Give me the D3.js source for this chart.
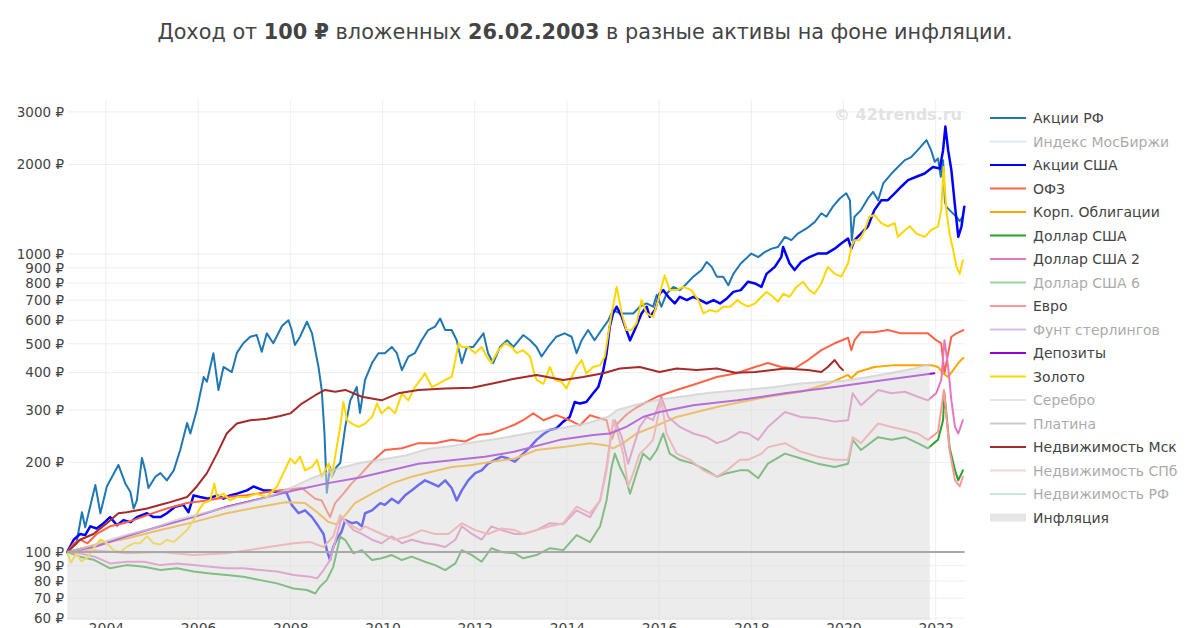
<!DOCTYPE html>
<html><head><meta charset="utf-8">
<script src="https://cdn.jsdelivr.net/npm/d3@7"></script>
<style>body{margin:0;background:#fff}svg{display:block;font-family:"DejaVu Sans",Verdana,sans-serif}</style>
</head><body>
<svg id="c" width="1200" height="628"></svg>
<script>
// ---- DATA (decimal year, value in ₽ per 100 ₽ invested) ----
const yTickValues = [60,70,80,90,100,200,300,400,500,600,700,800,900,1000,2000,3000];
const xTickYears = [2004,2006,2008,2010,2012,2014,2016,2018,2020,2022];

const rfStocks = [[2003.16,100],[2003.36,107],[2003.48,136],[2003.55,121],[2003.77,168],[2003.88,135],[2004.02,166],[2004.27,196],[2004.42,170],[2004.53,159],[2004.6,140],[2004.67,149],[2004.78,207],[2004.85,188],[2004.92,164],[2005.07,179],[2005.18,184],[2005.32,174],[2005.47,188],[2005.61,220],[2005.76,271],[2005.83,250],[2005.97,300],[2006.12,387],[2006.19,373],[2006.33,465],[2006.44,350],[2006.55,418],[2006.73,402],[2006.84,466],[2006.98,502],[2007.13,528],[2007.27,535],[2007.38,470],[2007.49,542],[2007.63,502],[2007.82,574],[2007.96,600],[2008.03,556],[2008.1,495],[2008.21,528],[2008.36,593],[2008.47,542],[2008.61,418],[2008.68,350],[2008.74,250],[2008.79,158],[2008.86,193],[2008.9,179],[2009.0,193],[2009.08,199],[2009.19,263],[2009.3,323],[2009.44,358],[2009.51,293],[2009.62,378],[2009.77,431],[2009.91,465],[2010.05,465],[2010.2,488],[2010.31,465],[2010.42,408],[2010.56,453],[2010.7,465],[2010.85,514],[2010.99,556],[2011.14,571],[2011.25,608],[2011.36,556],[2011.5,556],[2011.61,514],[2011.72,431],[2011.83,488],[2011.97,488],[2012.08,514],[2012.19,542],[2012.29,465],[2012.4,431],[2012.55,488],[2012.7,514],[2012.84,488],[2013.05,535],[2013.2,514],[2013.34,488],[2013.45,453],[2013.59,488],[2013.77,528],[2013.95,542],[2014.1,528],[2014.21,465],[2014.32,514],[2014.46,556],[2014.6,514],[2014.75,556],[2014.9,600],[2015.0,649],[2015.15,632],[2015.29,632],[2015.44,632],[2015.58,666],[2015.73,683],[2015.87,666],[2015.95,730],[2016.05,666],[2016.16,736],[2016.31,776],[2016.45,757],[2016.6,797],[2016.74,840],[2016.92,884],[2017.03,941],[2017.14,906],[2017.25,840],[2017.39,840],[2017.5,786],[2017.61,858],[2017.77,930],[2018.0,1004],[2018.15,977],[2018.29,1016],[2018.44,1043],[2018.58,1057],[2018.73,1142],[2018.87,1114],[2019.01,1172],[2019.2,1219],[2019.38,1283],[2019.52,1371],[2019.63,1335],[2019.77,1443],[2019.92,1537],[2020.06,1600],[2020.14,1517],[2020.18,1114],[2020.24,1335],[2020.38,1405],[2020.53,1537],[2020.64,1618],[2020.75,1517],[2020.86,1726],[2021.04,1864],[2021.18,1960],[2021.33,2067],[2021.47,2117],[2021.61,2233],[2021.8,2412],[2021.9,2233],[2021.98,2040],[2022.05,2094],[2022.11,1818],[2022.16,2067],[2022.2,1500],[2022.23,1443],[2022.3,1405],[2022.45,1335],[2022.52,1290],[2022.58,1330]];

const usStocks = [[2003.16,100],[2003.3,110],[2003.44,115],[2003.55,114],[2003.66,122],[2003.8,120],[2003.95,125],[2004.09,131],[2004.24,123],[2004.38,128],[2004.53,126],[2004.67,131],[2004.89,135],[2005.03,131],[2005.18,131],[2005.32,135],[2005.5,142],[2005.68,144],[2005.79,136],[2005.9,155],[2006.04,153],[2006.22,151],[2006.41,155],[2006.55,151],[2006.69,155],[2006.84,157],[2007.06,161],[2007.2,166],[2007.42,161],[2007.56,161],[2007.71,159],[2007.92,158],[2008.03,144],[2008.18,135],[2008.32,138],[2008.47,131],[2008.61,122],[2008.72,115],[2008.79,101.5],[2008.86,94],[2008.93,104],[2009.0,110],[2009.11,117],[2009.19,128],[2009.33,125],[2009.44,126],[2009.55,122],[2009.62,135],[2009.77,138],[2009.95,146],[2010.05,144],[2010.2,151],[2010.34,146],[2010.49,155],[2010.63,161],[2010.78,168],[2010.92,174],[2011.07,170],[2011.21,166],[2011.36,174],[2011.5,164],[2011.61,149],[2011.72,161],[2011.86,174],[2012.01,184],[2012.15,188],[2012.29,198],[2012.44,204],[2012.58,209],[2012.73,206],[2012.87,201],[2013.05,214],[2013.2,225],[2013.34,238],[2013.49,249],[2013.63,257],[2013.77,260],[2013.92,274],[2014.06,284],[2014.17,319],[2014.28,315],[2014.42,319],[2014.57,341],[2014.68,358],[2014.79,408],[2014.86,465],[2014.93,571],[2015.0,632],[2015.08,666],[2015.19,616],[2015.29,556],[2015.37,514],[2015.47,556],[2015.62,632],[2015.73,666],[2015.8,616],[2015.91,649],[2016.01,736],[2016.09,757],[2016.2,719],[2016.34,683],[2016.45,719],[2016.6,701],[2016.74,719],[2016.89,701],[2017.03,683],[2017.18,701],[2017.32,683],[2017.47,710],[2017.61,747],[2017.77,757],[2017.93,808],[2018.08,797],[2018.22,776],[2018.33,858],[2018.51,906],[2018.65,977],[2018.69,1057],[2018.83,930],[2018.94,884],[2019.08,941],[2019.26,977],[2019.44,1004],[2019.63,1004],[2019.81,1043],[2019.95,1085],[2020.1,1128],[2020.17,1043],[2020.24,1114],[2020.38,1172],[2020.53,1240],[2020.67,1405],[2020.82,1517],[2020.96,1517],[2021.11,1600],[2021.25,1683],[2021.4,1771],[2021.58,1818],[2021.76,1864],[2021.94,1960],[2022.09,1937],[2022.16,2233],[2022.21,2680],[2022.27,2233],[2022.34,1913],[2022.42,1443],[2022.49,1142],[2022.56,1240],[2022.62,1443]];

const ofz = [[2003.16,100],[2003.3,107],[2003.44,110],[2003.6,107],[2003.8,115],[2004.09,122],[2004.38,125],[2004.6,128],[2004.89,133],[2005.32,140],[2005.76,146],[2006.19,149],[2006.62,153],[2007.06,155],[2007.49,159],[2007.89,162],[2008.25,164],[2008.54,151],[2008.68,149],[2008.86,131],[2008.97,146],[2009.15,157],[2009.33,170],[2009.55,184],[2009.77,201],[2010.05,220],[2010.42,223],[2010.78,232],[2011.14,232],[2011.5,238],[2011.79,235],[2012.08,247],[2012.36,250],[2012.66,260],[2012.87,268],[2013.05,277],[2013.27,292],[2013.49,277],[2013.77,288],[2014.06,277],[2014.28,266],[2014.5,288],[2014.72,281],[2014.86,277],[2014.93,250],[2014.98,240],[2015.1,270],[2015.3,290],[2015.5,305],[2015.75,320],[2015.95,332],[2016.38,350],[2016.81,367],[2017.25,387],[2017.68,398],[2018.08,418],[2018.36,431],[2018.65,418],[2018.94,413],[2019.23,441],[2019.52,476],[2019.81,502],[2020.1,524],[2020.17,476],[2020.24,514],[2020.38,547],[2020.67,547],[2020.96,556],[2021.25,542],[2021.54,542],[2021.83,542],[2022.01,514],[2022.12,502],[2022.19,398],[2022.27,465],[2022.34,528],[2022.45,542],[2022.6,556]];

const corpBonds = [[2003.16,100],[2003.8,106],[2004.45,111],[2005.18,118.5],[2005.9,126],[2006.62,135],[2007.35,142],[2007.89,147],[2008.32,146],[2008.61,135],[2008.83,126],[2009.0,124],[2009.19,133],[2009.4,146],[2009.77,157],[2010.2,170],[2010.63,179],[2011.07,186],[2011.5,193],[2011.94,196],[2012.36,201],[2012.87,206],[2013.34,220],[2013.92,225],[2014.5,232],[2014.86,228],[2015.0,223],[2015.22,232],[2015.51,250],[2015.95,266],[2016.38,284],[2016.81,295],[2017.25,307],[2017.7,317],[2018.36,332],[2019.08,345],[2019.66,367],[2020.1,393],[2020.17,383],[2020.31,402],[2020.67,418],[2021.11,424],[2021.54,424],[2021.9,424],[2022.05,418],[2022.16,398],[2022.27,387],[2022.38,408],[2022.49,431],[2022.6,449]];

const usd = [[2003.16,100],[2003.44,96.5],[2003.75,94],[2004.09,88.2],[2004.45,90.4],[2004.82,89.2],[2005.18,87],[2005.54,88.2],[2005.9,86],[2006.26,84.8],[2006.62,83.7],[2006.98,82.6],[2007.35,80.5],[2007.71,78.5],[2008.07,75.5],[2008.36,74.6],[2008.54,72.6],[2008.64,76.5],[2008.79,80.5],[2008.93,89.2],[2009.08,112.6],[2009.19,109.7],[2009.37,99],[2009.55,101.5],[2009.77,94],[2009.98,95.3],[2010.2,97.7],[2010.42,94],[2010.63,96.5],[2010.92,92.8],[2011.14,90.4],[2011.36,87],[2011.58,91.6],[2011.72,101.5],[2011.94,97.7],[2012.15,92.8],[2012.36,103],[2012.58,100],[2012.87,99],[2013.05,95.3],[2013.34,97.7],[2013.63,103],[2013.92,101.5],[2014.21,114],[2014.5,108],[2014.72,122],[2014.86,149],[2014.97,193],[2015.04,214],[2015.15,193],[2015.29,174],[2015.37,157],[2015.51,184],[2015.65,214],[2015.8,204],[2015.95,220],[2016.09,250],[2016.23,214],[2016.45,204],[2016.74,198],[2017.03,188],[2017.25,179],[2017.47,184],[2017.75,188],[2017.93,188],[2018.15,177],[2018.36,198],[2018.73,214],[2019.08,206],[2019.44,198],[2019.81,193],[2020.1,198],[2020.2,238],[2020.38,220],[2020.75,243],[2021.04,238],[2021.33,243],[2021.61,232],[2021.83,223],[2022.05,238],[2022.16,277],[2022.19,341],[2022.3,225],[2022.42,188],[2022.49,174],[2022.59,188]];

const usd2 = [[2003.16,100],[2003.44,99],[2003.75,96.5],[2004.09,91.6],[2004.45,92.8],[2004.82,92.8],[2005.18,90.4],[2005.54,91.6],[2005.9,90.4],[2006.26,89.2],[2006.62,88.2],[2006.98,88.2],[2007.35,87],[2007.71,86],[2008.07,83.7],[2008.43,82.6],[2008.58,81.6],[2008.72,87],[2008.86,94],[2009.0,112.6],[2009.11,130],[2009.23,125],[2009.37,118.5],[2009.55,115],[2009.77,110],[2009.98,107],[2010.2,113],[2010.42,107],[2010.63,110],[2010.92,107],[2011.14,106],[2011.36,104],[2011.58,110],[2011.72,122],[2011.94,115],[2012.15,110],[2012.36,122],[2012.58,118.5],[2012.87,115],[2013.05,115],[2013.34,118.5],[2013.63,125],[2013.92,124],[2014.21,138],[2014.5,131],[2014.72,149],[2014.86,193],[2014.97,257],[2015.04,277],[2015.19,243],[2015.33,198],[2015.44,225],[2015.58,263],[2015.73,284],[2015.87,277],[2016.05,332],[2016.2,284],[2016.45,263],[2016.74,250],[2017.03,243],[2017.25,232],[2017.47,238],[2017.75,253],[2017.93,250],[2018.15,238],[2018.36,263],[2018.73,295],[2019.08,284],[2019.44,281],[2019.81,274],[2020.1,277],[2020.2,341],[2020.38,311],[2020.75,350],[2021.04,341],[2021.33,345],[2021.61,332],[2021.83,323],[2022.01,341],[2022.12,378],[2022.19,514],[2022.27,418],[2022.34,323],[2022.42,263],[2022.49,250],[2022.59,277]];

const eur = [[2003.16,100],[2003.75,101.5],[2004.45,99],[2005.18,100],[2005.9,97.7],[2006.62,99],[2007.35,103],[2008.07,107],[2008.43,108],[2008.72,104],[2008.93,113],[2009.08,133],[2009.23,125],[2009.51,118.5],[2009.62,122],[2009.98,115],[2010.27,110],[2010.56,113],[2010.85,118.5],[2011.14,115],[2011.43,115],[2011.72,125],[2012.01,118.5],[2012.29,115],[2012.58,120],[2012.87,118.5],[2013.05,115],[2013.34,118.5],[2013.63,122],[2013.92,125],[2014.21,142],[2014.5,135],[2014.72,149],[2014.86,188],[2014.93,225],[2015.0,277],[2015.08,257],[2015.22,214],[2015.33,166],[2015.44,184],[2015.58,214],[2015.73,225],[2015.87,238],[2016.05,323],[2016.16,250],[2016.38,214],[2016.67,204],[2016.96,188],[2017.25,179],[2017.47,188],[2017.75,204],[2017.93,204],[2018.22,214],[2018.36,225],[2018.73,232],[2019.08,217],[2019.44,209],[2019.81,204],[2020.1,204],[2020.2,243],[2020.38,232],[2020.75,270],[2021.04,263],[2021.33,257],[2021.61,250],[2021.83,238],[2022.05,253],[2022.18,350],[2022.3,220],[2022.42,174],[2022.52,166],[2022.59,179]];

const deposits = [[2003.16,100],[2003.75,104],[2004.45,113],[2005.18,122],[2005.9,131],[2006.62,142],[2007.35,151],[2008.07,161],[2008.79,170],[2009.51,178],[2010.78,198],[2012.22,209],[2012.85,217],[2013.85,238],[2014.57,247],[2014.93,250],[2015.29,263],[2015.65,284],[2016.01,295],[2016.74,311],[2017.7,323],[2018.73,341],[2019.81,358],[2020.89,378],[2021.97,398]];

const gold = [[2003.16,100],[2003.24,92],[2003.36,99],[2003.47,93],[2003.6,96],[2003.75,104],[2003.88,110],[2004.02,107],[2004.16,101.5],[2004.31,100],[2004.45,104],[2004.6,107],[2004.74,107],[2004.89,113],[2005.03,107],[2005.18,106],[2005.32,110],[2005.47,108],[2005.61,113],[2005.76,118.5],[2005.9,128],[2006.01,138],[2006.12,146],[2006.26,149],[2006.35,170],[2006.41,153],[2006.55,157],[2006.69,149],[2006.84,153],[2007.06,153],[2007.27,157],[2007.49,153],[2007.71,166],[2007.85,184],[2008.0,206],[2008.1,198],[2008.21,209],[2008.32,188],[2008.47,193],[2008.58,204],[2008.68,179],[2008.83,198],[2008.9,179],[2008.97,209],[2009.08,263],[2009.15,319],[2009.23,277],[2009.33,270],[2009.48,263],[2009.62,270],[2009.77,284],[2009.88,315],[2009.98,292],[2010.13,307],[2010.27,292],[2010.42,341],[2010.56,323],[2010.7,358],[2010.85,383],[2010.92,398],[2011.07,358],[2011.21,367],[2011.36,378],[2011.5,387],[2011.58,441],[2011.65,502],[2011.72,488],[2011.86,488],[2012.01,465],[2012.15,488],[2012.26,453],[2012.36,431],[2012.51,476],[2012.66,502],[2012.8,488],[2012.91,465],[2013.05,476],[2013.2,453],[2013.27,408],[2013.34,378],[2013.49,367],[2013.63,418],[2013.74,378],[2013.88,373],[2013.99,354],[2014.1,387],[2014.21,418],[2014.32,441],[2014.42,398],[2014.57,418],[2014.72,424],[2014.82,453],[2014.9,542],[2014.97,632],[2015.08,776],[2015.19,632],[2015.29,556],[2015.4,556],[2015.51,586],[2015.62,701],[2015.73,632],[2015.87,616],[2015.98,701],[2016.12,849],[2016.23,757],[2016.38,757],[2016.52,776],[2016.7,757],[2016.85,701],[2016.96,632],[2017.1,649],[2017.25,640],[2017.39,666],[2017.54,666],[2017.7,701],[2017.79,683],[2017.93,666],[2018.08,683],[2018.22,719],[2018.33,747],[2018.47,719],[2018.58,692],[2018.69,736],[2018.83,719],[2018.98,776],[2019.12,808],[2019.26,757],[2019.37,736],[2019.52,797],[2019.66,906],[2019.81,858],[2019.95,840],[2020.1,930],[2020.17,1057],[2020.24,1114],[2020.35,1114],[2020.46,1203],[2020.56,1335],[2020.67,1352],[2020.82,1270],[2020.96,1240],[2021.11,1270],[2021.18,1142],[2021.33,1203],[2021.44,1240],[2021.58,1172],[2021.76,1142],[2021.9,1203],[2022.05,1240],[2022.12,1405],[2022.17,1960],[2022.23,1405],[2022.3,1172],[2022.38,1031],[2022.45,906],[2022.52,858],[2022.59,954]];

const mskRealty = [[2003.16,100],[2003.44,110],[2003.73,115],[2004.02,125],[2004.27,135],[2004.45,136],[2004.89,140],[2005.32,146],[2005.76,153],[2005.97,166],[2006.19,184],[2006.41,214],[2006.62,250],[2006.84,270],[2007.13,277],[2007.49,280],[2007.78,286],[2008.0,292],[2008.25,315],[2008.54,336],[2008.75,350],[2008.97,345],[2009.19,350],[2009.55,332],[2009.98,323],[2010.34,341],[2010.78,350],[2011.36,354],[2011.94,356],[2012.36,367],[2012.8,380],[2013.34,393],[2013.92,378],[2014.35,387],[2014.79,398],[2015.15,413],[2015.58,418],[2016.01,402],[2016.38,413],[2016.81,408],[2017.25,413],[2017.66,400],[2018.08,402],[2018.73,413],[2019.23,408],[2019.52,402],[2019.66,418],[2019.81,441],[2019.92,418],[2019.99,408]];

const inflation = [[2003.16,100],[2003.5,103],[2004.0,109],[2004.5,115],[2005.0,120],[2005.5,128],[2006.0,134],[2006.5,140],[2007.0,146],[2007.5,153],[2008.0,164],[2008.5,178],[2009.0,190],[2009.5,199],[2010.0,205],[2010.5,211],[2011.0,222],[2011.5,227],[2012.0,234],[2012.5,240],[2013.0,248],[2013.5,256],[2014.0,263],[2014.5,272],[2014.9,285],[2015.1,300],[2015.5,312],[2016.0,325],[2016.5,333],[2017.0,341],[2017.5,347],[2018.0,352],[2018.5,358],[2019.0,367],[2019.5,372],[2020.0,376],[2020.5,386],[2021.0,398],[2021.5,412],[2021.87,428]];

const legendNames = ["Акции РФ","Индекс МосБиржи","Акции США","ОФЗ","Корп. Облигации","Доллар США","Доллар США 2","Доллар США 6","Евро","Фунт стерлингов","Депозиты","Золото","Серебро","Платина","Недвижимость Мск","Недвижимость СПб","Недвижимость РФ","Инфляция"];
const legendColors = ["#1f77b4","#add8e6","#0000ff","#ff6347","#ffa500","#2ca02c","#e377c2","#2ca02c","#ff9999","#b266cc","#9400d3","#ffd700","#c8c8c8","#909090","#a52a2a","#d8a8a8","#88c8b0","#dcdcdc"];
const legendVisible = [true,false,true,true,true,true,true,false,true,false,true,true,false,false,true,false,false,true];
const seriesData = {"Акции РФ":rfStocks,"Акции США":usStocks,"ОФЗ":ofz,"Корп. Облигации":corpBonds,"Доллар США":usd,"Доллар США 2":usd2,"Евро":eur,"Депозиты":deposits,"Золото":gold,"Недвижимость Мск":mskRealty};
const seriesWidth = {"Акции США":2.5};

// ---- CHART ----
const svg = d3.select('#c');
const toDate = t => { const yr = Math.floor(t); const s = Date.UTC(yr,0,1), e = Date.UTC(yr+1,0,1); return new Date(s + (t-yr)*(e-s)); };
const L = 67, R = 964.5, T = 100, B = 620;
const x = d3.scaleUtc().domain([toDate(2003.155), toDate(2022.625)]).range([L, R]);
const y = d3.scaleLog().domain([59.15, 3290]).range([B, T]);

// grid
const grid = svg.append('g');
grid.selectAll('line.h').data(yTickValues).join('line')
  .attr('x1', L).attr('x2', 965).attr('y1', d => y(d)).attr('y2', d => y(d))
  .attr('stroke', '#eeeeee').attr('stroke-width', 1);
grid.selectAll('line.v').data(xTickYears).join('line')
  .attr('x1', d => x(toDate(d))).attr('x2', d => x(toDate(d))).attr('y1', T).attr('y2', B)
  .attr('stroke', '#eeeeee').attr('stroke-width', 1);

// watermark
svg.append('text').attr('x', 962).attr('y', 120).attr('text-anchor', 'end')
  .attr('font-size', 16).attr('font-weight', 'bold').attr('fill', '#e2e2e2').text('© 42trends.ru');

// lines
const line = d3.line().x(d => x(toDate(d[0]))).y(d => y(d[1]));
const lines = svg.append('g').attr('fill', 'none').attr('stroke-linejoin', 'round').attr('stroke-linecap', 'round');
legendNames.forEach((n, i) => {
  if (!seriesData[n]) return;
  lines.append('path').datum(seriesData[n]).attr('d', line)
    .attr('stroke', legendColors[i]).attr('stroke-width', seriesWidth[n] || 2);
});

// inflation area (drawn on top, translucent)
const area = d3.area().x(d => x(toDate(d[0]))).y0(B).y1(d => y(d[1]));
svg.append('path').datum(inflation).attr('d', area).attr('fill', 'rgba(218,218,218,0.5)');
svg.append('path').datum(inflation).attr('d', line).attr('fill', 'none')
  .attr('stroke', 'rgba(205,205,205,0.7)').attr('stroke-width', 2);

// 100 ₽ reference line
svg.append('line').attr('x1', L).attr('x2', R).attr('y1', y(100)).attr('y2', y(100))
  .attr('stroke', '#a8a8a8').attr('stroke-width', 2);

// axes
const yAxis = svg.append('g').attr('transform', `translate(${L},0)`)
  .call(d3.axisLeft(y).tickValues(yTickValues).tickFormat(d => d + ' ₽').tickSize(0).tickPadding(3));
yAxis.select('.domain').remove();
yAxis.selectAll('text').attr('font-size', 13.5).attr('fill', '#444').attr('font-family', '"DejaVu Sans",Verdana,sans-serif');

const xAxis = svg.append('g').attr('transform', `translate(0,${B})`)
  .call(d3.axisBottom(x).tickValues(xTickYears.map(toDate)).tickFormat(d3.utcFormat('%Y')).tickSize(0).tickPadding(3));
xAxis.select('.domain').remove();
xAxis.selectAll('text').attr('font-size', 14).attr('fill', '#444').attr('font-family', '"DejaVu Sans",Verdana,sans-serif');

// title
const title = svg.append('text').attr('x', 585).attr('y', 39).attr('text-anchor', 'middle')
  .attr('font-size', 20.8).attr('fill', '#444');
[["Доход от ", false], ["100 ₽", true], [" вложенных ", false], ["26.02.2003", true], [" в разные активы на фоне инфляции.", false]]
  .forEach(([t, b]) => title.append('tspan').attr('font-weight', b ? 'bold' : 'normal').text(t));

// legend
const lg = svg.append('g');
legendNames.forEach((n, i) => {
  const cy = 118 + i * 23.5;
  const g = lg.append('g').attr('opacity', legendVisible[i] ? 1 : 0.45);
  if (n === 'Инфляция') {
    g.append('rect').attr('x', 990).attr('y', cy - 4).attr('width', 36).attr('height', 8).attr('fill', '#e6e6e6');
  } else {
    g.append('line').attr('x1', 990).attr('x2', 1026).attr('y1', cy).attr('y2', cy)
      .attr('stroke', legendColors[i]).attr('stroke-width', 2);
  }
  g.append('text').attr('x', 1033).attr('y', cy).attr('dy', '0.36em')
    .attr('font-size', 14).attr('fill', '#444').text(n);
});
</script>
</body></html>
